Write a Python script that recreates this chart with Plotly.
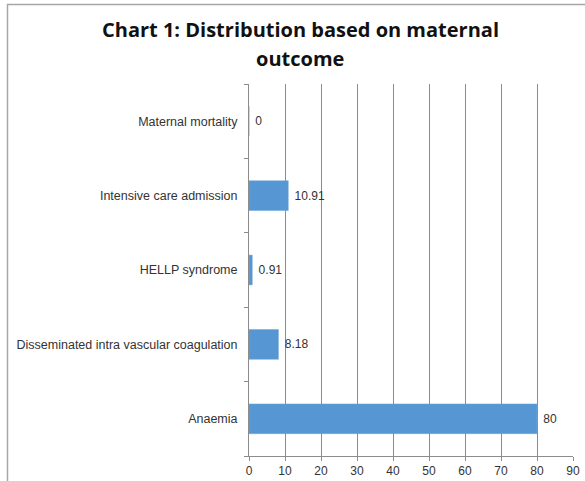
import plotly.graph_objects as go

categories = ["Anaemia", "Disseminated intra vascular coagulation", "HELLP syndrome",
              "Intensive care admission", "Maternal mortality"]
values = [80, 8.18, 0.91, 10.91, 0]
value_labels = ["80", "8.18", "0.91", "10.91", "0"]
x_ticks = [0, 10, 20, 30, 40, 50, 60, 70, 80, 90]

FONT = "Liberation Sans, Arial, sans-serif"

fig = go.Figure()
fig.add_trace(go.Bar(
    y=categories, x=values, orientation="h",
    marker=dict(color="#5596D3", line=dict(color="#6FA8DC", width=0.5)),
    width=0.4,
    text=["\u00a0" + t for t in value_labels], textposition="outside",
    textfont=dict(family=FONT, size=12, color="#333333"),
    cliponaxis=False,
    hoverinfo="skip",
))

fig.update_layout(
    width=585, height=481,
    margin=dict(l=249, r=12, t=84, b=25, autoexpand=False),
    paper_bgcolor="white", plot_bgcolor="white",
    showlegend=False,
    annotations=[
        dict(text="<b>Chart 1: Distribution based on maternal</b>", xref="paper", yref="paper",
             x=(300 - 249) / 324, y=(456 - 30) / 372, xanchor="center", yanchor="middle",
             showarrow=False, font=dict(family="Open Sans, sans-serif", size=20, color="#111111")),
        dict(text="<b>outcome</b>", xref="paper", yref="paper",
             x=(300 - 249) / 324, y=(456 - 58) / 372, xanchor="center", yanchor="middle",
             showarrow=False, font=dict(family="Open Sans, sans-serif", size=20, color="#111111")),
    ],
    xaxis=dict(
        range=[0, 90], tickvals=x_ticks, ticktext=[str(v) for v in x_ticks],
        showgrid=True, gridcolor="#8C8C8C", gridwidth=1,
        showline=True, linecolor="#8C8C8C", linewidth=1,
        ticks="outside", ticklen=4, tickcolor="#8C8C8C",
        tickfont=dict(family=FONT, size=12, color="#333333"),
        zeroline=False, fixedrange=True, automargin=False,
    ),
    yaxis=dict(
        type="category", categoryorder="array", categoryarray=categories,
        tickson="boundaries", ticks="outside", ticklen=4, tickcolor="#8C8C8C",
        showline=True, linecolor="#8C8C8C", linewidth=1,
        showgrid=False, ticklabelstandoff=8,
        tickfont=dict(family=FONT, size=12.5, color="#333333"),
        fixedrange=True, automargin=False,
    ),
    bargap=0.6,
    shapes=[dict(
        type="rect", xref="paper", yref="paper",
        x0=(7.5 - 249) / 324, x1=1.2, y0=-0.2, y1=(456 - 4.5) / 372,
        line=dict(color="#A6A6A6", width=1.5), fillcolor="rgba(0,0,0,0)", layer="below",
    )],
)

fig.write_html("out.html")
